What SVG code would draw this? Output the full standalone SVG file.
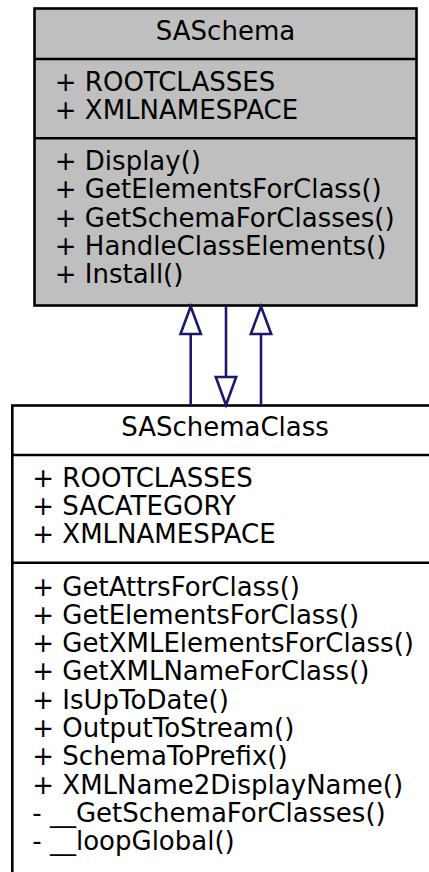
<svg xmlns="http://www.w3.org/2000/svg" width="429" height="872" viewBox="0 0 429 872">
<style>
text{font-family:"DejaVu Sans","Liberation Sans",sans-serif;font-size:26px;fill:#000}
.box{stroke:#000;stroke-width:2.6}
.sep{stroke:#000;stroke-width:2.6;fill:none}
.mid{text-anchor:middle}
.edge{stroke:#191970;stroke-width:2.6;fill:none}
.head{stroke:#191970;stroke-width:2.6;fill:#fff}
</style>
<rect width="429" height="872" fill="#fff"/>
<g id="node-SASchema">
<rect class="box" x="34.5" y="8.5" width="382" height="297" fill="#bfbfbf"/>
<line class="sep" x1="34.5" y1="59" x2="416.5" y2="59"/>
<line class="sep" x1="34.5" y1="138.3" x2="416.5" y2="138.3"/>
<text class="mid" x="225.5" y="40">SASchema</text>
<text x="54.8" y="90.7">+ ROOTCLASSES</text>
<text x="54.8" y="119">+ XMLNAMESPACE</text>
<text x="54.8" y="170">+ Display()</text>
<text x="54.8" y="198.3">+ GetElementsForClass()</text>
<text x="54.8" y="226.6">+ GetSchemaForClasses()</text>
<text x="54.8" y="254.9">+ HandleClassElements()</text>
<text x="54.8" y="283.2">+ Install()</text>
</g>
<g id="node-SASchemaClass">
<rect class="box" x="12.3" y="405.5" width="426" height="480" fill="#fff"/>
<line class="sep" x1="12.3" y1="455" x2="438.3" y2="455"/>
<line class="sep" x1="12.3" y1="562.7" x2="438.3" y2="562.7"/>
<text class="mid" x="225" y="435.7">SASchemaClass</text>
<text x="32.3" y="486.7">+ ROOTCLASSES</text>
<text x="32.3" y="515">+ SACATEGORY</text>
<text x="32.3" y="543.3">+ XMLNAMESPACE</text>
<text x="32.3" y="595.5">+ GetAttrsForClass()</text>
<text x="32.3" y="623.8">+ GetElementsForClass()</text>
<text x="32.3" y="652.1">+ GetXMLElementsForClass()</text>
<text x="32.3" y="680.4">+ GetXMLNameForClass()</text>
<text x="32.3" y="708.7">+ IsUpToDate()</text>
<text x="32.3" y="737">+ OutputToStream()</text>
<text x="32.3" y="765.3">+ SchemaToPrefix()</text>
<text x="32.3" y="793.6">+ XMLName2DisplayName()</text>
<text x="32.3" y="821.9">- __GetSchemaForClasses()</text>
<text x="32.3" y="850.2">- __loopGlobal()</text>
</g>
<g id="connectors">
<line class="edge" x1="190.7" y1="405" x2="190.7" y2="334"/>
<polygon class="head" points="190.7,306.5 180.5,334 200.9,334"/>
<line class="edge" x1="226" y1="306" x2="226" y2="377"/>
<polygon class="head" points="226,405 215.8,377 236.2,377"/>
<line class="edge" x1="261" y1="405" x2="261" y2="334"/>
<polygon class="head" points="261,306.5 250.8,334 271.2,334"/>
</g>
</svg>
